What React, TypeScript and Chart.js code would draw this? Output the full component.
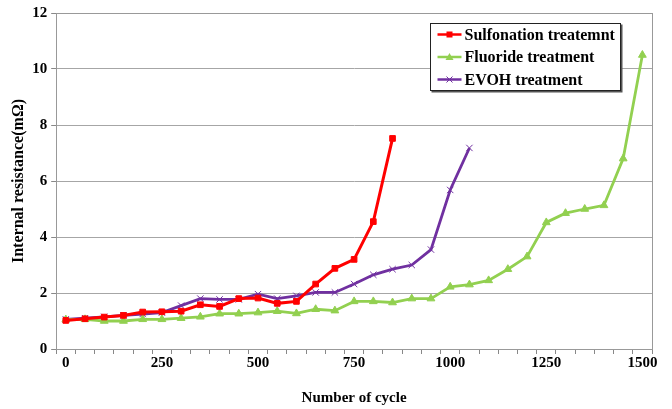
import React, { useEffect, useRef } from "react";
import { Chart, registerables } from "chart.js";

Chart.register(...registerables);

const cycles = [
  "0", "50", "100", "150", "200", "250", "300", "350", "400", "450", "500",
  "550", "600", "650", "700", "750", "800", "850", "900", "950", "1000",
  "1050", "1100", "1150", "1200", "1250", "1300", "1350", "1400", "1450", "1500",
];

const sulfonation: (number | null)[] = [
  1.02, 1.08, 1.14, 1.2, 1.32, 1.33, 1.35, 1.58, 1.52, 1.8, 1.82, 1.63, 1.7,
  2.32, 2.88, 3.2, 4.55, 7.52,
];

const fluoride: (number | null)[] = [
  1.05, 1.06, 1.0, 1.0, 1.06, 1.06, 1.1, 1.15, 1.26, 1.26, 1.3, 1.35, 1.27,
  1.42, 1.37, 1.7, 1.7, 1.66, 1.8, 1.8, 2.22, 2.3, 2.45, 2.85, 3.3, 4.52,
  4.85, 5.0, 5.13, 6.8, 10.5,
];

const evoh: (number | null)[] = [
  1.06, 1.1, 1.15, 1.2, 1.25, 1.3, 1.55, 1.8, 1.77, 1.77, 1.96, 1.8, 1.9,
  2.02, 2.02, 2.32, 2.65, 2.85, 3.0, 3.55, 5.68, 7.18,
];

const seriesNames = ["Sulfonation treatemnt", "Fluoride treatment", "EVOH treatment"];
const seriesColors = ["#ff0000", "#92d050", "#7030a0"];
const seriesMarkers = ["rect", "triangle", "crossRot"];

const FONT = "'Liberation Serif', 'DejaVu Serif', serif";

function marker(ctx: CanvasRenderingContext2D, style: string, x: number, y: number, color: string) {
  ctx.save();
  ctx.fillStyle = color;
  ctx.strokeStyle = color;
  ctx.lineWidth = 1;
  if (style === "rect") {
    ctx.fillRect(x - 3, y - 3, 6, 6);
  } else if (style === "triangle") {
    ctx.beginPath();
    ctx.moveTo(x, y - 4);
    ctx.lineTo(x + 4, y + 3);
    ctx.lineTo(x - 4, y + 3);
    ctx.closePath();
    ctx.fill();
  } else {
    ctx.beginPath();
    ctx.moveTo(x - 3, y - 3);
    ctx.lineTo(x + 3, y + 3);
    ctx.moveTo(x + 3, y - 3);
    ctx.lineTo(x - 3, y + 3);
    ctx.stroke();
  }
  ctx.restore();
}

const frameAndLegend = {
  id: "frameAndLegend",
  beforeDatasetsDraw(chart: any) {
    const { ctx, chartArea } = chart;
    ctx.save();
    ctx.strokeStyle = "#999999";
    ctx.lineWidth = 1;
    ctx.strokeRect(
      Math.round(chartArea.left) + 0.5,
      Math.round(chartArea.top) + 0.5,
      Math.round(chartArea.right - chartArea.left),
      Math.round(chartArea.bottom - chartArea.top)
    );
    ctx.restore();
  },
  afterDatasetsDraw(chart: any) {
    const { ctx, chartArea } = chart;
    const bx = Math.round(chartArea.left + 374) + 0.5;
    const by = Math.round(chartArea.top + 10) + 0.5;
    const bw = 190;
    const bh = 67;
    ctx.save();
    ctx.fillStyle = "#555555";
    ctx.fillRect(bx + 1, by + 1, bw + 1, bh + 1);
    ctx.fillStyle = "#ffffff";
    ctx.fillRect(bx, by, bw, bh);
    ctx.strokeStyle = "#222222";
    ctx.lineWidth = 1;
    ctx.strokeRect(bx, by, bw, bh);
    chart.data.datasets.forEach((ds: any, i: number) => {
      const y = by + 11 + i * 22.5;
      const x0 = bx + 7;
      ctx.strokeStyle = ds.borderColor;
      ctx.lineWidth = 2.5;
      ctx.beginPath();
      ctx.moveTo(x0, y);
      ctx.lineTo(x0 + 24, y);
      ctx.stroke();
      marker(ctx, ds.pointStyle, x0 + 12, y, ds.borderColor);
      ctx.fillStyle = "#000000";
      ctx.font = "bold 16px " + FONT;
      ctx.textAlign = "left";
      ctx.textBaseline = "middle";
      ctx.fillText(ds.label, x0 + 27, y + 1);
    });
    ctx.restore();
  },
};

export default function App() {
  const ref = useRef<HTMLCanvasElement | null>(null);
  useEffect(() => {
    if (!ref.current) return;
    const datasets = [sulfonation, fluoride, evoh].map((d, i) => ({
      label: seriesNames[i],
      data: d,
      borderColor: seriesColors[i],
      backgroundColor: seriesColors[i],
      pointBackgroundColor: seriesColors[i],
      pointBorderColor: seriesColors[i],
      pointStyle: seriesMarkers[i],
      pointRadius: i === 0 ? 4 : 4.5,
      pointBorderWidth: 1,
      borderWidth: i === 0 ? 3 : 2.8,
      tension: 0,
      fill: false,
    }));
    const chart = new Chart(ref.current, {
      type: "line",
      data: { labels: cycles, datasets },
      plugins: [frameAndLegend],
      options: {
        animation: false,
        responsive: false,
        maintainAspectRatio: false,
        layout: { padding: { top: 5, right: 20, left: 9, bottom: 2 } },
        plugins: {
          legend: { display: false },
          tooltip: { enabled: false },
        },
        scales: {
          x: {
            type: "category",
            offset: true,
            grid: {
              offset: true,
              drawOnChartArea: false,
              drawTicks: true,
              tickLength: 5,
              color: "#888888",
            },
            border: { display: true, color: "#888888" },
            ticks: {
              autoSkip: false,
              maxRotation: 0,
              color: "#000000",
              font: { family: FONT, size: 15, weight: "bold" },
              padding: 0,
              callback: (_v: any, i: number) => (i % 5 === 0 ? cycles[i] : ""),
            },
            title: {
              display: true,
              text: "Number of cycle",
              color: "#000000",
              font: { family: FONT, size: 15, weight: "bold" },
              padding: { top: 17, bottom: 0 },
            },
          },
          y: {
            min: 0,
            max: 12,
            grid: {
              color: "#a6a6a6",
              drawTicks: true,
              tickLength: 5,
              tickColor: "#888888",
            },
            border: { display: true, color: "#888888" },
            ticks: {
              stepSize: 2,
              color: "#000000",
              font: { family: FONT, size: 15, weight: "bold" },
              padding: 4,
            },
            title: {
              display: true,
              text: "Internal resistance(mΩ)",
              color: "#000000",
              font: { family: FONT, size: 16, weight: "bold" },
              padding: { top: 0, bottom: 0 },
            },
          },
        },
      },
    });
    return () => chart.destroy();
  }, []);
  return (
    <div style={{ position: "absolute", left: 0, top: 0, width: 672, height: 409, background: "#fff" }}>
      <canvas ref={ref} width={672} height={409} style={{ width: 672, height: 409 }} />
    </div>
  );
}
